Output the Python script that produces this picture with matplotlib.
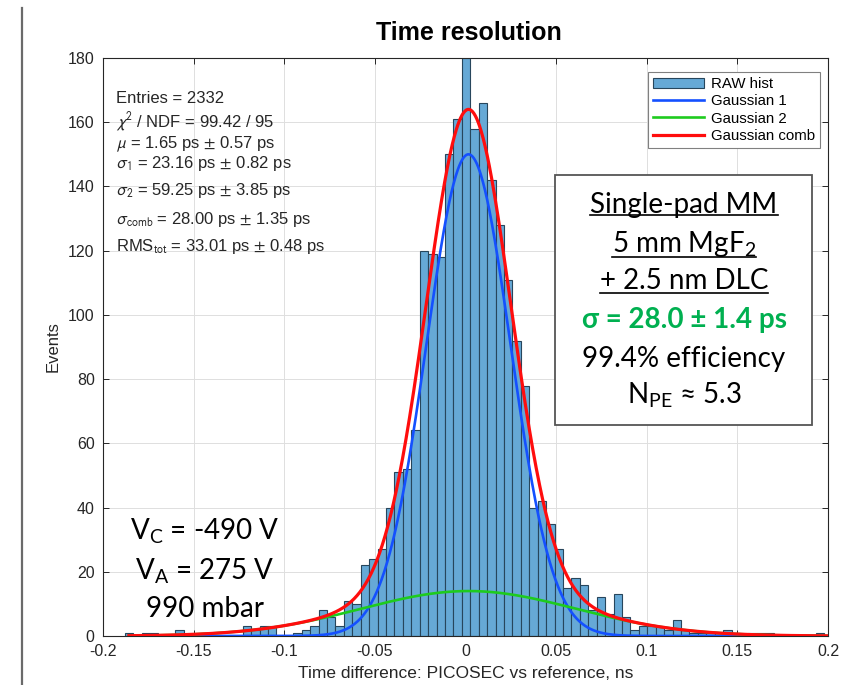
import matplotlib
matplotlib.use('Agg')
import matplotlib.pyplot as plt
import numpy as np
from matplotlib.lines import Line2D
from matplotlib.patches import Rectangle, Patch

# ---------------- data ----------------
bin_start = -0.188
bin_width = 0.00465
counts = [1, 0, 1, 1, 0, 0, 2, 0, 0, 0,
          0, 0, 0, 0, 3, 2, 3, 3, 0, 0,
          1, 2, 3, 8, 6, 3, 11, 10, 22, 24,
          27, 40, 51, 52, 64, 120, 119, 118, 150, 161,
          180, 158, 166, 142, 128, 111, 92, 78, 40, 42,
          35, 27, 15, 18, 16, 8, 12, 7, 13, 6,
          2, 3, 3, 3, 2, 5, 2, 1, 1, 1,
          1, 2, 1, 0, 1, 1, 1, 0, 0, 0,
          0, 0, 1]

# fit parameters (ns)
mu = 0.00165
sigma1 = 0.02316
sigma2 = 0.05925
amp1 = 150
amp2 = 14
curve_start = -0.1857
curve_end = 0.2

xtick_vals = [-0.2, -0.15, -0.1, -0.05, 0, 0.05, 0.1, 0.15, 0.2]
xtick_labels = ['-0.2', '-0.15', '-0.1', '-0.05', '0', '0.05', '0.1', '0.15', '0.2']
ytick_vals = [0, 20, 40, 60, 80, 100, 120, 140, 160, 180]

stats_lines = [
    'Entries = 2332',
    r'$\chi^2$ / NDF = 99.42 / 95',
    r'$\mu$ = 1.65 ps $\pm$ 0.57 ps',
    r'$\sigma_1$ = 23.16 ps $\pm$ 0.82 ps',
    r'$\sigma_2$ = 59.25 ps $\pm$ 3.85 ps',
    r'$\sigma_{\mathrm{comb}}$ = 28.00 ps $\pm$ 1.35 ps',
    r'RMS$_{\mathrm{tot}}$ = 33.01 ps $\pm$ 0.48 ps',
]
legend_labels = ['RAW hist', 'Gaussian 1', 'Gaussian 2', 'Gaussian comb']
box_lines = ['Single-pad MM', r'5 mm MgF$_2$', '+ 2.5 nm DLC',
             'σ = 28.0 ± 1.4 ps', '99.4% efficiency', r'N$_{\mathrm{PE}}$ ≈ 5.3']
cond_lines = [r'V$_{\mathrm{C}}$ = -490 V', r'V$_{\mathrm{A}}$ = 275 V', '990 mbar']

# ---------------- style ----------------
plt.rcParams['font.family'] = ['Liberation Sans', 'DejaVu Sans']
plt.rcParams['mathtext.fontset'] = 'custom'
plt.rcParams['mathtext.rm'] = 'Lato'
plt.rcParams['mathtext.it'] = 'Lato:italic'
plt.rcParams['mathtext.bf'] = 'Lato:bold'

W, H = 846, 685
fig = plt.figure(figsize=(W / 100, H / 100), dpi=100)
fig.patch.set_facecolor('white')

def fx(px):
    return px / W

def fy(py):
    return 1 - py / H

ax = fig.add_axes([fx(103), fy(636), (828 - 103) / W, (636 - 58) / H])

edges = bin_start + bin_width * np.arange(len(counts) + 1)
hist_face = '#66a9d6'
hist_edge = '#27465c'
ax.bar(edges[:-1], counts, width=bin_width, align='edge',
       facecolor=hist_face, edgecolor=hist_edge, linewidth=0.8, zorder=2)

x = np.linspace(curve_start, curve_end, 1000)
g1 = amp1 * np.exp(-0.5 * ((x - mu) / sigma1) ** 2)
g2 = amp2 * np.exp(-0.5 * ((x - mu) / sigma2) ** 2)
comb = g1 + g2
c_blue, c_green, c_red = '#1450ff', '#1ecb1e', '#ff0d0d'
ax.plot(x, g1, color=c_blue, lw=1.9, zorder=3)
ax.plot(x, g2, color=c_green, lw=1.9, zorder=3)
ax.plot(x, comb, color=c_red, lw=2.3, zorder=4)

ax.set_xlim(-0.2, 0.2)
ax.set_ylim(0, 180)
ax.set_xticks(xtick_vals)
ax.set_xticklabels(xtick_labels)
ax.set_yticks(ytick_vals)
ax.grid(True, color='#dedede', lw=0.7)
ax.set_axisbelow(True)
ax.tick_params(direction='in', top=True, right=True, length=4, width=0.7,
               labelsize=11.5, colors='#262626')
ax.tick_params(axis='x', pad=6)
ax.tick_params(axis='y', pad=6)
for s in ax.spines.values():
    s.set_color('#262626')
    s.set_linewidth(0.8)
ax.set_xlabel('Time difference: PICOSEC vs reference, ns', fontsize=12.5,
              color='#262626', labelpad=5)
ax.set_ylabel('Events', fontsize=12, color='#262626', labelpad=5)

handles = [Patch(facecolor=hist_face, edgecolor=hist_edge, linewidth=0.8),
           Line2D([], [], color=c_blue, lw=1.9),
           Line2D([], [], color=c_green, lw=1.9),
           Line2D([], [], color=c_red, lw=2.3)]
leg = ax.legend(handles, legend_labels, loc='upper right',
                bbox_to_anchor=(0.989, 0.976), fontsize=10.8, frameon=True,
                fancybox=False, edgecolor='#808080', borderaxespad=0,
                handlelength=3.4, handletextpad=0.45, labelspacing=0.22,
                borderpad=0.35, framealpha=1)
leg.get_frame().set_linewidth(0.8)

# stats text (baselines in px)
stats_base = [103, 128, 148, 168, 195, 224, 251]
for line, by in zip(stats_lines, stats_base):
    fig.text(fx(116), fy(by), line, fontsize=12, va='baseline', ha='left',
             color='#262626', math_fontfamily='stixsans')

# title
fig.text(fx(469), fy(33), 'Time resolution', fontsize=18, fontweight='bold',
         ha='center', va='center')

# left slide line
fig.add_artist(Line2D([fx(22), fx(22)], [fy(8), fy(685)], color='#6a6a6a',
                      lw=1.6, transform=fig.transFigure))

# overlay box
fig.add_artist(Rectangle((fx(555), fy(425)), fx(812) - fx(555), fy(175) - fy(425),
                         transform=fig.transFigure, facecolor='white',
                         edgecolor='#555555', lw=1.3, zorder=5))
box_base = [212.7, 251.7, 289.3, 328.3, 366.7, 403.3]
box_texts = []
for i, (line, by) in enumerate(zip(box_lines, box_base)):
    kw = dict(fontsize=20, ha='center', va='baseline', family='Lato',
              math_fontfamily='custom', zorder=6, color='black')
    if i == 3:
        kw.update(color='#00b050', fontweight='bold')
    t = fig.text(fx(684), fy(by), line, **kw)
    box_texts.append(t)

# bottom-left conditions
cond_base = [540, 580, 617]
for line, by in zip(cond_lines, cond_base):
    fig.text(fx(205), fy(by), line, fontsize=20, ha='center', va='baseline',
             family='Lato', math_fontfamily='custom', zorder=6, color='black')

# underlines
fig.canvas.draw()
r = fig.canvas.get_renderer()
for t, uy in zip(box_texts[:3], [215, 257, 293]):
    bb = t.get_window_extent(r)
    fig.add_artist(Line2D([bb.x0 / W, bb.x1 / W], [fy(uy), fy(uy)],
                          color='black', lw=1.2, transform=fig.transFigure,
                          zorder=6))

fig.savefig('out.png', dpi=100)
